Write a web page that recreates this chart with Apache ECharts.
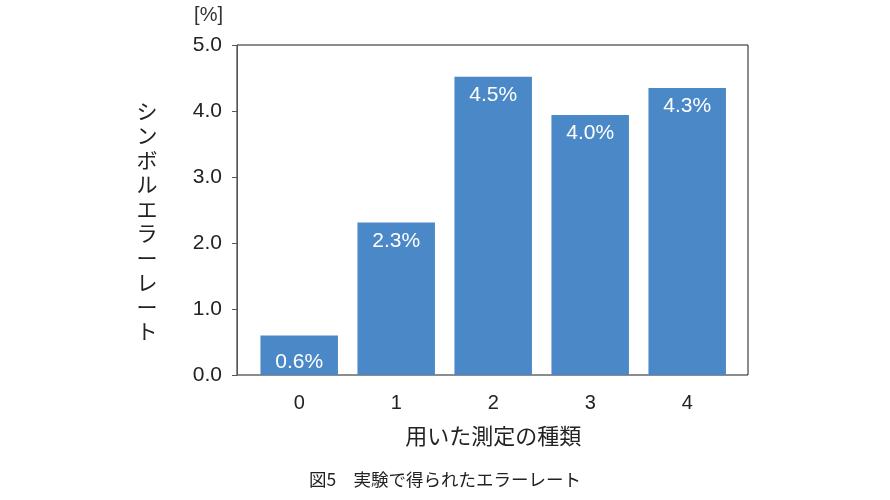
<!DOCTYPE html>
<html><head><meta charset="utf-8">
<script src="https://cdn.jsdelivr.net/npm/echarts@6/dist/echarts.min.js"></script>
<style>html,body{margin:0;padding:0;background:#fff}#c{width:890px;height:500px}</style>
</head><body><div id="c"></div>
<script>
const categories = ['0', '1', '2', '3', '4'];
const errorRates = [0.6, 2.31, 4.52, 3.94, 4.35];
const barLabels = ['0.6%', '2.3%', '4.5%', '4.0%', '4.3%'];
const yTicks = { min: 0, max: 5, interval: 1 };
const xTitle = '用いた測定の種類';
const yTitle = 'シンボルエラーレート';
const yUnit = '[%]';
const caption = '図5　実験で得られたエラーレート';

const NUM_FONT = 'Liberation Sans, Arial, sans-serif';
const JP_FONT = 'Noto Sans CJK JP, sans-serif';

const chart = echarts.init(document.getElementById('c'), null, { renderer: 'canvas' });
chart.setOption({
  animation: false,
  backgroundColor: '#ffffff',
  title: {
    text: caption, left: 'center', top: 466,
    textStyle: { fontFamily: JP_FONT, fontSize: 17.5, fontWeight: 'normal', color: '#222' }
  },
  graphic: [{
    type: 'text', x: 147, y: 221,
    style: {
      text: yTitle.split('').join('\n'), fontFamily: JP_FONT, fontSize: 21, lineHeight: 24.5,
      fill: '#222', align: 'center', verticalAlign: 'middle'
    }
  }],
  grid: [
    { left: 237, top: 45, width: 511, height: 330, show: true, borderColor: '#1a1a1a', borderWidth: 1, backgroundColor: 'transparent' },
    { left: 250.7, top: 45, width: 485, height: 330 }
  ],
  xAxis: [
    { type: 'value', gridIndex: 0, show: false, min: 0, max: 1 },
    {
      type: 'category', gridIndex: 1, data: categories,
      axisLine: { show: false }, axisTick: { show: false },
      axisLabel: { fontFamily: NUM_FONT, fontSize: 20, color: '#222', margin: 18 },
      name: xTitle, nameLocation: 'middle', nameGap: 50,
      nameTextStyle: { fontFamily: JP_FONT, fontSize: 22, color: '#222' }
    }
  ],
  yAxis: [
    {
      type: 'value', gridIndex: 0, min: yTicks.min, max: yTicks.max, interval: yTicks.interval,
      axisLine: { show: true, lineStyle: { color: '#555', width: 1 } },
      axisTick: { show: true, inside: false, length: 5, lineStyle: { color: '#555' } },
      splitLine: { show: false },
      axisLabel: { fontFamily: NUM_FONT, fontSize: 21, color: '#222', margin: 15, formatter: v => v.toFixed(1) },
      name: yUnit, nameLocation: 'end', nameGap: 30,
      nameTextStyle: { fontFamily: NUM_FONT, fontSize: 20, color: '#333', align: 'right', verticalAlign: 'middle', padding: [0, 14, 0, 0] }
    },
    {
      type: 'value', gridIndex: 1, min: yTicks.min, max: yTicks.max, interval: yTicks.interval, show: false
    }
  ],
  series: [{
    type: 'bar', xAxisIndex: 1, yAxisIndex: 1,
    barWidth: 77.5,
    itemStyle: { color: '#4a88c7' },
    label: {
      show: true, position: 'insideTop', distance: 8,
      fontFamily: NUM_FONT, fontSize: 21, color: '#ffffff',
      formatter: p => barLabels[p.dataIndex]
    },
    data: errorRates.map((v, i) => i === 0 ? { value: v, label: { distance: 16 } } : v)
  }]
});
</script></body></html>
